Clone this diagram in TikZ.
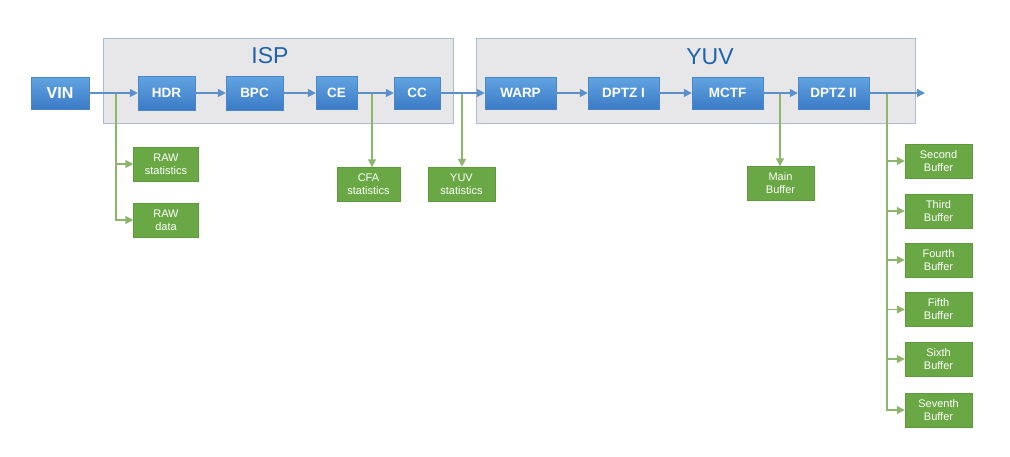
\documentclass[tikz,border=0pt]{standalone}
\usepackage{fontspec}
\setmainfont{Liberation Sans}
\usetikzlibrary{arrows.meta}
\definecolor{blocktop}{HTML}{62A3E2}
\definecolor{blockbottom}{HTML}{3B7BC6}
\definecolor{blockedge}{HTML}{4A85C4}
\definecolor{flowline}{HTML}{5B90C8}
\definecolor{bufferfill}{HTML}{6AA845}
\definecolor{bufferedge}{HTML}{5E9A3C}
\definecolor{tapline}{HTML}{8DB56E}
\definecolor{stagefill}{HTML}{E7E7E9}
\definecolor{stageedge}{HTML}{A9BCD0}
\definecolor{stagetitle}{HTML}{1F63A8}

\begin{document}
\begin{tikzpicture}[x=1pt,y=-1pt,
		block/.style={draw=blockedge,top color=blocktop,bottom color=blockbottom,text=white,font=\fontsize{13.5}{13.5}\selectfont\bfseries,inner sep=0pt,minimum height=32pt},
		buffer/.style={draw=bufferedge,fill=bufferfill,text=white,font=\fontsize{11}{13}\selectfont,align=center,inner sep=0pt,minimum width=65pt,minimum height=34pt},
		flow/.style={flowline,line width=1.5pt,-{Triangle[length=8pt,width=8pt]}},
		tap/.style={tapline,line width=1.5pt,-{Triangle[length=8pt,width=8pt]}}]
		\useasboundingbox (0,0) rectangle (1010,456);
		
		\fill[stagefill,draw=stageedge] (103,38) rectangle (453,123);
		\fill[stagefill,draw=stageedge] (476,38) rectangle (915,123);
		\node[stagetitle,font=\fontsize{23}{23}\selectfont] (isp) at (270,56) {ISP};
		\node[stagetitle,font=\fontsize{23}{23}\selectfont] (yuv) at (710,57) {YUV};
		
		\node[block,minimum width=58pt,font=\fontsize{16}{16}\selectfont\bfseries] (vin) at (60,93) {VIN};
		\node[block,minimum width=57pt,minimum height=34pt] (hdr) at (166.5,93) {HDR};
		\node[block,minimum width=57pt,minimum height=34pt] (bpc) at (254.5,93) {BPC};
		\node[block,minimum width=41pt,minimum height=33pt] (ce) at (336.5,93) {CE};
		\node[block,minimum width=46pt] (cc) at (417,93) {CC};
		\node[block,minimum width=71pt] (warp) at (520.5,93) {WARP};
		\node[block,minimum width=71pt] (dptzone) at (623.5,93) {DPTZ I};
		\node[block,minimum width=71pt] (mctf) at (727.5,93) {MCTF};
		\node[block,minimum width=71pt] (dptztwo) at (833.5,93) {DPTZ II};
		\coordinate (out) at (925,93);
		
		\node[buffer] (rawstat) at (166,164) {RAW\\statistics};
		\node[buffer] (rawdata) at (166,220) {RAW\\data};
		\node[buffer,minimum width=63pt] (cfastat) at (368.5,184.5) {CFA\\statistics};
		\node[buffer,minimum width=67pt] (yuvstat) at (461.5,184) {YUV\\statistics};
		\node[buffer,minimum width=67pt] (mainbuf) at (780.5,183.5) {Main\\Buffer};
		\node[buffer,minimum width=67pt] (secondbuf) at (938.5,161) {Second\\Buffer};
		\node[buffer,minimum width=67pt] (thirdbuf) at (938.5,211) {Third\\Buffer};
		\node[buffer,minimum width=67pt] (fourthbuf) at (938.5,260) {Fourth\\Buffer};
		\node[buffer,minimum width=67pt] (fifthbuf) at (938.5,309.5) {Fifth\\Buffer};
		\node[buffer,minimum width=67pt] (sixthbuf) at (938.5,359) {Sixth\\Buffer};
		\node[buffer,minimum width=67pt] (seventhbuf) at (938.5,410) {Seventh\\Buffer};
		
		\coordinate (rawtap) at (116,93);
		\coordinate (cfatap) at (372,93);
		\coordinate (yuvtap) at (462,93);
		\coordinate (maintap) at (780,93);
		\coordinate (buftap) at (887,93);
		
		\draw[tap] (rawtap) |- (rawstat.west);
		\draw[tap] (rawtap) |- (rawdata.west);
		\draw[tap] (cfatap) -- (cfatap |- cfastat.north);
		\draw[tap] (yuvtap) -- (yuvtap |- yuvstat.north);
		\draw[tap] (maintap) -- (maintap |- mainbuf.north);
		\draw[tap] (buftap) |- (secondbuf.west);
		\draw[tap] (buftap) |- (thirdbuf.west);
		\draw[tap] (buftap) |- (fourthbuf.west);
		\draw[tap] (buftap) |- (fifthbuf.west);
		\draw[tap] (buftap) |- (sixthbuf.west);
		\draw[tap] (buftap) |- (seventhbuf.west);
		
		\draw[flow] (vin) -- (hdr);
		\draw[flow] (hdr) -- (bpc);
		\draw[flow] (bpc) -- (ce);
		\draw[flow] (ce) -- (cc);
		\draw[flow] (cc) -- (warp);
		\draw[flow] (warp) -- (dptzone);
		\draw[flow] (dptzone) -- (mctf);
		\draw[flow] (mctf) -- (dptztwo);
		\draw[flow] (dptztwo) -- (out);
	\end{tikzpicture}
\end{document}
